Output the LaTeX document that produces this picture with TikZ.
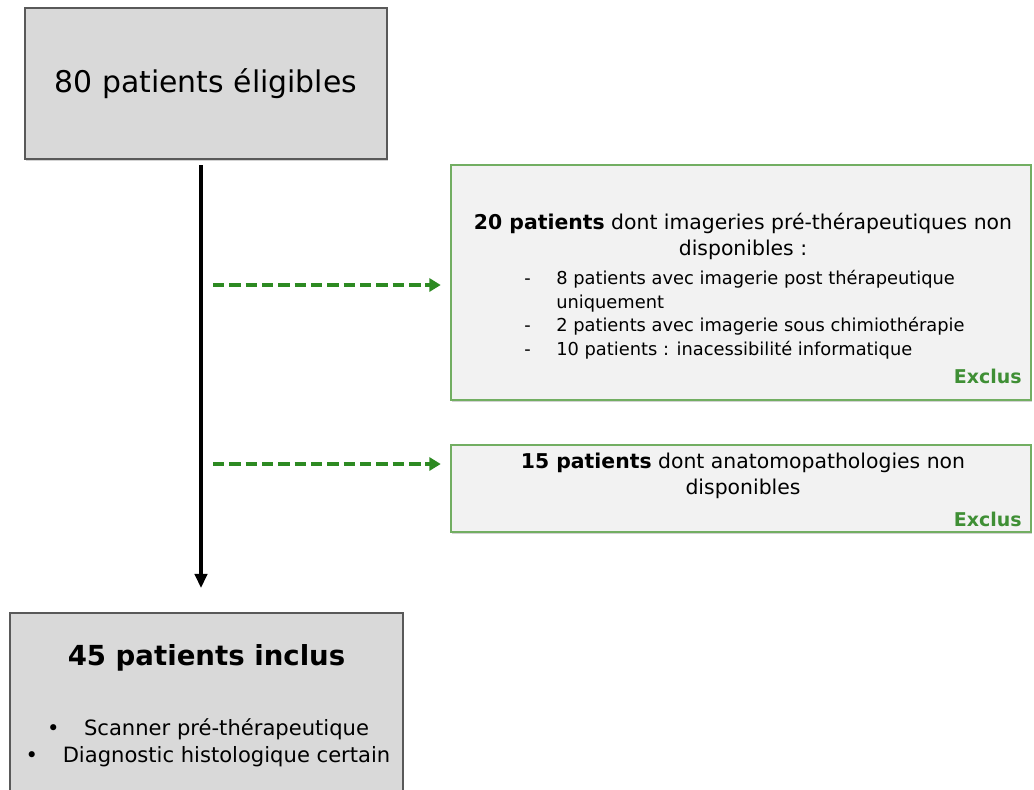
\documentclass[tikz,border=0pt]{standalone}
\usepackage{fontspec}
\setmainfont{DejaVu Sans}
\usetikzlibrary{arrows.meta, shadows, positioning}

\definecolor{boxgray}{HTML}{D9D9D9}
\definecolor{boxline}{HTML}{595959}
\definecolor{exfill}{HTML}{F2F2F2}
\definecolor{exgreen}{HTML}{72AE62}
\definecolor{darkgreen}{HTML}{2D8A22}
\definecolor{exclgreen}{HTML}{3F8F35}

\begin{document}
\begin{tikzpicture}[x=0.02cm,y=-0.02cm,
 mainbox/.style={rectangle, draw=boxline, line width=0.9pt, fill=boxgray,
   drop shadow={opacity=0.35, shadow xshift=0.8pt, shadow yshift=-1.2pt}},
 exbox/.style={rectangle, draw=exgreen, line width=0.8pt, fill=exfill,
   drop shadow={opacity=0.35, shadow xshift=0.8pt, shadow yshift=-1.2pt}},
 exclus/.style={font=\fontsize{10.8}{12}\selectfont\bfseries, text=exclgreen, anchor=east, inner sep=0pt},
 flow/.style={-{Triangle[length=8pt,width=7pt]}, line width=1.8pt, black},
 skip/.style={-{Triangle[length=6.5pt,width=7.5pt]}, line width=2.3pt, darkgreen,
   dash pattern=on 6.5pt off 2.8pt, shorten >=5.5pt}]
  \useasboundingbox (0,0) rectangle (1034,789);

  % boxes
  \node[mainbox, minimum width=7.24cm, minimum height=3.02cm] (elig) at (206,83.5)
   {\fontsize{17}{20}\selectfont 80 patients éligibles};
  \node[exbox, minimum width=11.6cm, minimum height=4.7cm] (excl1) at (741,282.5) {};
  \node[exbox, minimum width=11.6cm, minimum height=1.74cm] (excl2) at (741,488.5) {};
  \node[mainbox, minimum width=7.86cm, minimum height=3.8cm, anchor=north] (incl) at (206.5,612) {};

  % texts
  \node[align=center, font=\fontsize{11.6}{14.8}\selectfont] (t1) at (743,236)
   {\textbf{20 patients} dont imageries pré-thérapeutiques non\\disponibles :};
  \node[anchor=north west, inner sep=0pt, font=\fontsize{10.15}{13.4}\selectfont] (l1) at (524,268)
   {\begin{tabular}{@{}l@{\hspace{14.5pt}}l@{}}
     - & 8 patients avec imagerie post thérapeutique\\
       & uniquement\\
     - & 2 patients avec imagerie sous chimiothérapie\\
     - & 10 patients : inacessibilité informatique
    \end{tabular}};
  \node[exclus] (x1) at (1022,376) {Exclus};
  \node[align=center, font=\fontsize{11.6}{14.8}\selectfont] (t2) at (743,476)
   {\textbf{15 patients} dont anatomopathologies non\\disponibles};
  \node[exclus] (x2) at (1022,519) {Exclus};
  \node[font=\fontsize{15.7}{18}\selectfont\bfseries] (t3) at (206.5,658) {45 patients inclus};
  \node[align=center, font=\fontsize{12}{15.3}\selectfont] (l3) at (208,743)
   {•\hspace{14pt}Scanner pré-thérapeutique\\
    •\hspace{14pt}Diagnostic histologique certain};

  % connectors
  \coordinate (e1) at (213,285);
  \coordinate (e2) at (213,464);
  \draw[flow] ([yshift=-3pt]elig.south -| 201,0) -- (201,588) coordinate (d);
  \draw[skip] (e1) -- (excl1.west |- e1);
  \draw[skip] (e2) -- (excl2.west |- e2);
\end{tikzpicture}
\end{document}
